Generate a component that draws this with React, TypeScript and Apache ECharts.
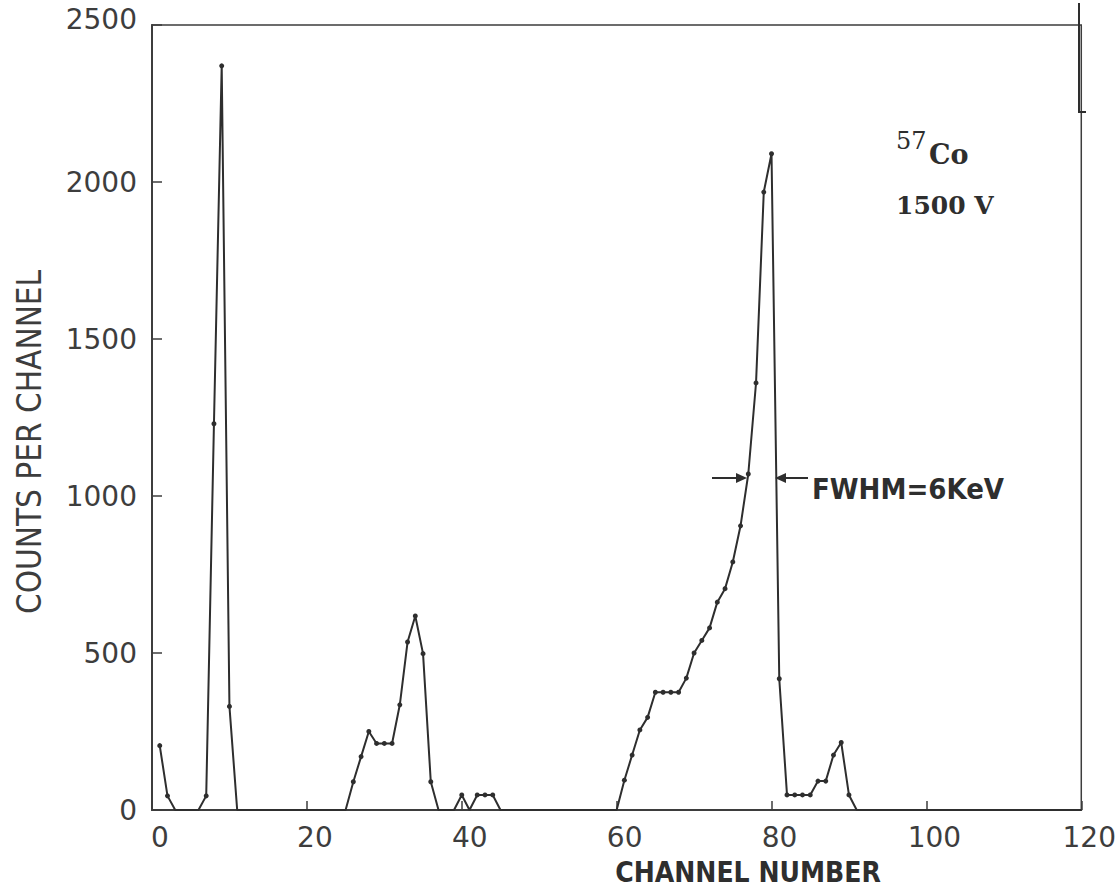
import React, { useEffect, useRef } from "react";
import * as echarts from "echarts";

// Channel numbers and counts (zero runs are flat baseline)
const channels = [
  1, 2, 3, 6, 7, 8, 9, 10, 11,
  25, 26, 27, 28, 29, 30, 31, 32, 33, 34, 35, 36, 37,
  39, 40, 41, 42, 43, 44, 45,
  60, 61, 62, 63, 64, 65, 66, 67, 68, 69, 70, 71, 72, 73, 74, 75, 76, 77, 78, 79, 80,
  81, 82, 83, 84, 85, 86, 87, 88, 89, 90, 91,
  120,
];
const counts = [
  205, 45, 0, 0, 45, 1230, 2370, 330, 0,
  0, 90, 170, 250, 212, 212, 212, 335, 535, 618, 498, 90, 0,
  0, 48, 0, 48, 48, 48, 0,
  0, 95, 175, 255, 295, 375, 375, 375, 375, 420, 500, 540, 580, 662, 705, 790, 905, 1070, 1360, 1968, 2090,
  418, 48, 48, 48, 48, 92, 92, 175, 215, 48, 0,
  0,
];

const xTicks = { min: 0, max: 120, interval: 20 };
const yTicks = { min: 0, max: 2500, interval: 500 };

const xName = "CHANNEL NUMBER";
const yName = "COUNTS PER CHANNEL";
const isotopeMass = "57";
const isotopeSymbol = "Co";
const voltageLabel = "1500 V";
const fwhmLabel = "FWHM=6KeV";

const INK = "#2e2e2e";
const LABEL = "#3d3d3d";

export default function App() {
  const ref = useRef<HTMLDivElement>(null);

  useEffect(() => {
    if (!ref.current) return;
    const chart = echarts.init(ref.current, undefined, { renderer: "svg" });
    const data = channels.map((c, i) => [c, counts[i]]);

    chart.setOption({
      animation: false,
      backgroundColor: "#fff",
      grid: {
        left: 152,
        top: 25,
        width: 934,
        height: 785,
        show: true,
        borderColor: LABEL,
        borderWidth: 1.5,
        containLabel: false,
      },
      xAxis: {
        type: "value",
        min: xTicks.min,
        max: xTicks.max,
        interval: xTicks.interval,
        axisLine: { show: true, lineStyle: { color: LABEL, width: 2 } },
        axisTick: { show: true, inside: true, length: 9, lineStyle: { color: LABEL, width: 1.5 } },
        splitLine: { show: false },
        axisLabel: {
          color: LABEL,
          fontFamily: "DejaVu Sans",
          fontSize: 28,
          margin: 13,
          padding: [0, 0, 0, 16],
        },
      },
      yAxis: {
        type: "value",
        min: yTicks.min,
        max: yTicks.max,
        interval: yTicks.interval,
        axisLine: { show: true, lineStyle: { color: LABEL, width: 2 } },
        axisTick: { show: true, inside: true, length: 10, lineStyle: { color: LABEL, width: 1.5 } },
        splitLine: { show: false },
        axisLabel: {
          color: LABEL,
          fontFamily: "DejaVu Sans",
          fontSize: 28,
          margin: 15,
          formatter: (v: number) => (v === yTicks.max ? "{top|" + v + "}" : String(v)),
          rich: {
            top: {
              color: LABEL,
              fontFamily: "DejaVu Sans",
              fontSize: 28,
              padding: [0, 0, 12, 0],
            },
          },
        },
      },
      series: [
        {
          type: "line",
          data,
          symbol: "circle",
          symbolSize: (v: number[]) => (v[1] > 0 ? 5 : 0),
          showAllSymbol: true,
          lineStyle: { color: INK, width: 2 },
          itemStyle: { color: INK },
          emphasis: { disabled: true },
        },
      ],
      graphic: [
        {
          type: "text",
          x: 29,
          y: 442,
          rotation: Math.PI / 2,
          style: {
            text: yName,
            fill: LABEL,
            font: "33px 'DejaVu Sans Condensed', 'DejaVu Sans', sans-serif",
            align: "center",
            verticalAlign: "middle",
          },
        },
        {
          type: "text",
          x: 748,
          y: 872,
          style: {
            text: xName,
            fill: INK,
            font: "600 28px 'DejaVu Sans Condensed', 'DejaVu Sans', sans-serif",
            align: "center",
            verticalAlign: "middle",
          },
        },
        {
          type: "text",
          x: 896,
          y: 129,
          style: {
            text: isotopeMass,
            fill: INK,
            font: "24px 'DejaVu Serif', serif",
            align: "left",
            verticalAlign: "top",
          },
        },
        {
          type: "text",
          x: 929,
          y: 141,
          style: {
            text: isotopeSymbol,
            fill: INK,
            font: "bold 27px 'DejaVu Serif', serif",
            align: "left",
            verticalAlign: "top",
          },
        },
        {
          type: "text",
          x: 896,
          y: 205,
          style: {
            text: voltageLabel,
            fill: INK,
            font: "600 25px 'DejaVu Serif', serif",
            align: "left",
            verticalAlign: "middle",
          },
        },
        {
          type: "line",
          shape: { x1: 712, y1: 478, x2: 742, y2: 478 },
          style: { stroke: INK, lineWidth: 2 },
        },
        {
          type: "polygon",
          shape: { points: [[747, 478], [736, 473], [736, 483]] },
          style: { fill: INK },
        },
        {
          type: "line",
          shape: { x1: 780, y1: 478, x2: 808, y2: 478 },
          style: { stroke: INK, lineWidth: 2 },
        },
        {
          type: "polygon",
          shape: { points: [[775, 478], [786, 473], [786, 483]] },
          style: { fill: INK },
        },
        {
          type: "text",
          x: 812,
          y: 489,
          style: {
            text: fwhmLabel,
            fill: INK,
            font: "bold 29px 'DejaVu Sans Condensed', 'DejaVu Sans', sans-serif",
            align: "left",
            verticalAlign: "middle",
          },
        },
        {
          type: "polyline",
          shape: { points: [[1079, 3], [1079, 112], [1086, 112]] },
          style: { stroke: INK, lineWidth: 2, fill: "none" },
        },
      ],
    });

    return () => chart.dispose();
  }, []);

  return (
    <div
      ref={ref}
      style={{ position: "fixed", left: 0, top: 0, width: 1119, height: 896 }}
    />
  );
}
